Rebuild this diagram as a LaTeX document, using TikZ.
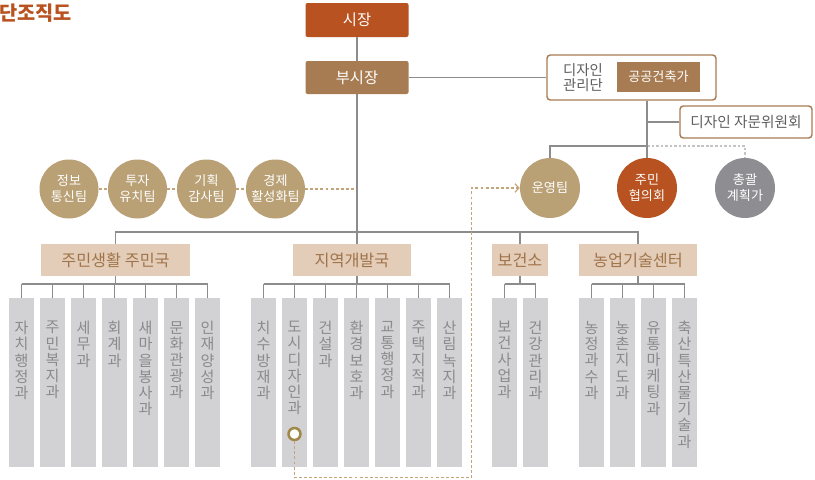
\documentclass[tikz,border=0pt]{standalone}
\usepackage{fontspec}
\setmainfont{Noto Sans CJK KR}
\usetikzlibrary{arrows.meta}
\definecolor{rust}{HTML}{B85220}
\definecolor{brownb}{HTML}{A87C52}
\definecolor{tanc}{HTML}{B9A075}
\definecolor{circgray}{HTML}{8E8E92}
\definecolor{hdrfill}{HTML}{E3CDB8}
\definecolor{hdrtext}{HTML}{A0744A}
\definecolor{colfill}{HTML}{D2D2D4}
\definecolor{coltext}{HTML}{8A8A8C}
\definecolor{linegray}{HTML}{8C8C8C}
\definecolor{dashtan}{HTML}{C4A57A}
\definecolor{dashgray}{HTML}{C4C4C6}
\definecolor{darktext}{HTML}{5E5E5E}
\definecolor{markc}{HTML}{A08848}
\tikzset{
 conn/.style={draw=linegray, line width=1pt},
 topbox/.style={rounded corners=1.5pt, minimum width=103*0.75pt, minimum height=34*0.75pt, text=white, font=\fontsize{11.5pt}{13pt}\selectfont, inner sep=0},
 circ/.style={circle, minimum size=59*0.75pt, inner sep=0, text=white, align=center, font=\fontsize{9.8pt}{12pt}\selectfont},
 hdr/.style={fill=hdrfill, text=hdrtext, minimum height=32*0.75pt, inner sep=0, font=\fontsize{12.2pt}{14pt}\selectfont},
 colbox/.style={fill=colfill, minimum width=25*0.75pt, minimum height=169*0.75pt, inner sep=0},
 coltxt/.style={anchor=north, inner sep=0, text=coltext, align=center, font=\fontsize{11.3pt}{12.15pt}\selectfont},
 tandash/.style={draw=dashtan, line width=0.9pt, dash pattern=on 2.2pt off 1.6pt},
 graydash/.style={draw=dashgray, line width=1.1pt, dash pattern=on 2pt off 1.4pt},
}
\begin{document}
\begin{tikzpicture}[x=0.75pt,y=-0.75pt]
\useasboundingbox (0,0) rectangle (815,479);
% title
\node[anchor=east, text=rust, font=\bfseries\fontsize{14.8pt}{16pt}\selectfont, inner sep=0] (title) at (72,13) {단조직도};
% top boxes
\node[topbox, fill=rust] (mayor) at (357,20) {시장};
\node[topbox, fill=brownb, minimum height=33*0.75pt] (vice) at (357,77.5) {부시장};
\draw[conn] (mayor) -- (vice);
% design management group
\node[draw=brownb, line width=1.1pt, rounded corners=2.5pt, fill=white, minimum width=169*0.75pt, minimum height=45*0.75pt, inner sep=0] (dm) at (631.5,77.5) {};
\node[text=darktext, align=center, inner sep=0, font=\fontsize{10.8pt}{11.8pt}\selectfont] (dmtext) at (583,77.5) {디자인\\관리단};
\node[fill=brownb, text=white, minimum width=83*0.75pt, minimum height=30*0.75pt, inner sep=0, font=\fontsize{9.8pt}{11pt}\selectfont] (pub) at (658.5,77) {공공건축가};
\draw[conn] (vice.east) -- (dm.west);
\node[draw=brownb, line width=1.1pt, rounded corners=2.5pt, fill=white, minimum width=132*0.75pt, minimum height=32*0.75pt, inner sep=0, text=darktext, font=\fontsize{11pt}{12pt}\selectfont] (adv) at (746,122) {디자인 자문위원회};
% right circles
\node[circ, fill=tanc, minimum size=60*0.75pt] (ops) at (550,188) {운영팀};
\node[circ, fill=rust, minimum size=60*0.75pt] (council) at (647,188) {주민\\협의회};
\node[circ, fill=circgray, minimum size=60*0.75pt] (plan) at (745,188) {총괄\\계획가};
\coordinate (rb) at (647,146);
\coordinate (rg) at (745,146);
\draw[graydash] (rb) -- (rg) -- (plan.north);
\draw[conn] (dm.south -| council.north) -- (council.north);
\draw[conn] (adv.west) -- (adv.west -| council.north);
\draw[conn] (rb) -| (ops.north);
% left circles
\node[circ, fill=tanc] (c1) at (69,189) {정보\\통신팀};
\node[circ, fill=tanc] (c2) at (137.5,189) {투자\\유치팀};
\node[circ, fill=tanc] (c3) at (206.5,189) {기획\\감사팀};
\node[circ, fill=tanc] (c4) at (275.5,189) {경제\\활성화팀};
\coordinate (tc) at (357,189);
\draw[tandash] (c1) -- (c2);
\draw[tandash] (c2) -- (c3);
\draw[tandash] (c3) -- (c4);
\draw[tandash] (c4) -- (tc);
% headers
\node[hdr, minimum width=149*0.75pt] (h1) at (115.5,260) {주민생활 주민국};
\node[hdr, minimum width=118*0.75pt] (h2) at (352,260) {지역개발국};
\node[hdr, minimum width=56*0.75pt] (h3) at (520,260) {보건소};
\node[hdr, minimum width=118*0.75pt] (h4) at (638,260) {농업기술센터};
\coordinate (j) at (357,232);
\draw[conn] (vice.south) -- (j);
\draw[conn] (h1.north) |- (j) -| (h4.north);
\draw[conn] (j) -- (j |- h2.north);
\draw[conn] (h3.north) -- (h3.north |- j);
\coordinate (ya) at (0,284);
% group 1
\foreach \t [count=\k from 0] in {자\\치\\행\\정\\과, 주\\민\\복\\지\\과, 세\\무\\과, 회\\계\\과, 새\\마\\을\\봉\\사\\과, 문\\화\\관\\광\\과, 인\\재\\양\\성\\과} {
  \node[colbox] (ga\k) at ({21.5+31*\k},382.5) {};
  \node[coltxt] (ta\k) at ({21.5+31*\k},321) {\t};
  \draw[conn] (ga\k.north) -- (ga\k.north |- ya);
}
\draw[conn] (ga0.north |- ya) -- (ga6.north |- ya);
\draw[conn] (h1.south) -- (h1.south |- ya);
% group 2
\foreach \t [count=\k from 0] in {치\\수\\방\\재\\과, 도\\시\\디\\자\\인\\과, 건\\설\\과, 환\\경\\보\\호\\과, 교\\통\\행\\정\\과, 주\\택\\지\\적\\과, 산\\림\\녹\\지\\과} {
  \node[colbox] (gb\k) at ({263.5+31*\k},382.5) {};
  \node[coltxt] (tb\k) at ({263.5+31*\k},321) {\t};
  \draw[conn] (gb\k.north) -- (gb\k.north |- ya);
}
\draw[conn] (gb0.north |- ya) -- (gb6.north |- ya);
\draw[conn] (j |- h2.south) -- (j |- ya);
% group 3
\foreach \t [count=\k from 0] in {보\\건\\사\\업\\과, 건\\강\\관\\리\\과} {
  \node[colbox] (gc\k) at ({504.5+31*\k},382.5) {};
  \node[coltxt] (tc\k) at ({504.5+31*\k},321) {\t};
  \draw[conn] (gc\k.north) -- (gc\k.north |- ya);
}
\draw[conn] (gc0.north |- ya) -- (gc1.north |- ya);
\draw[conn] (h3.south) -- (h3.south |- ya);
% group 4
\foreach \t [count=\k from 0] in {농\\정\\과\\수\\과, 농\\촌\\지\\도\\과, 유\\통\\마\\케\\팅\\과, 축\\산\\특\\산\\물\\기\\술\\과} {
  \node[colbox] (gd\k) at ({591.5+31*\k},382.5) {};
  \node[coltxt] (td\k) at ({591.5+31*\k},321) {\t};
  \draw[conn] (gd\k.north) -- (gd\k.north |- ya);
}
\draw[conn] (gd0.north |- ya) -- (gd3.north |- ya);
\draw[conn] (h4.south) -- (h4.south |- ya);
% marker and dashed route
\node[circle, draw=markc, line width=1.9pt, fill=white, minimum size=12*0.75pt, inner sep=0] (mk) at (294.5,434) {};
\coordinate (r1) at (294.5,477.5);
\coordinate (r2) at (471.7,477.5);
\draw[tandash, -{Straight Barb[length=3pt, width=6.5pt]}] (mk.south) -- (r1) -- (r2) |- (ops.west);
\end{tikzpicture}
\end{document}
